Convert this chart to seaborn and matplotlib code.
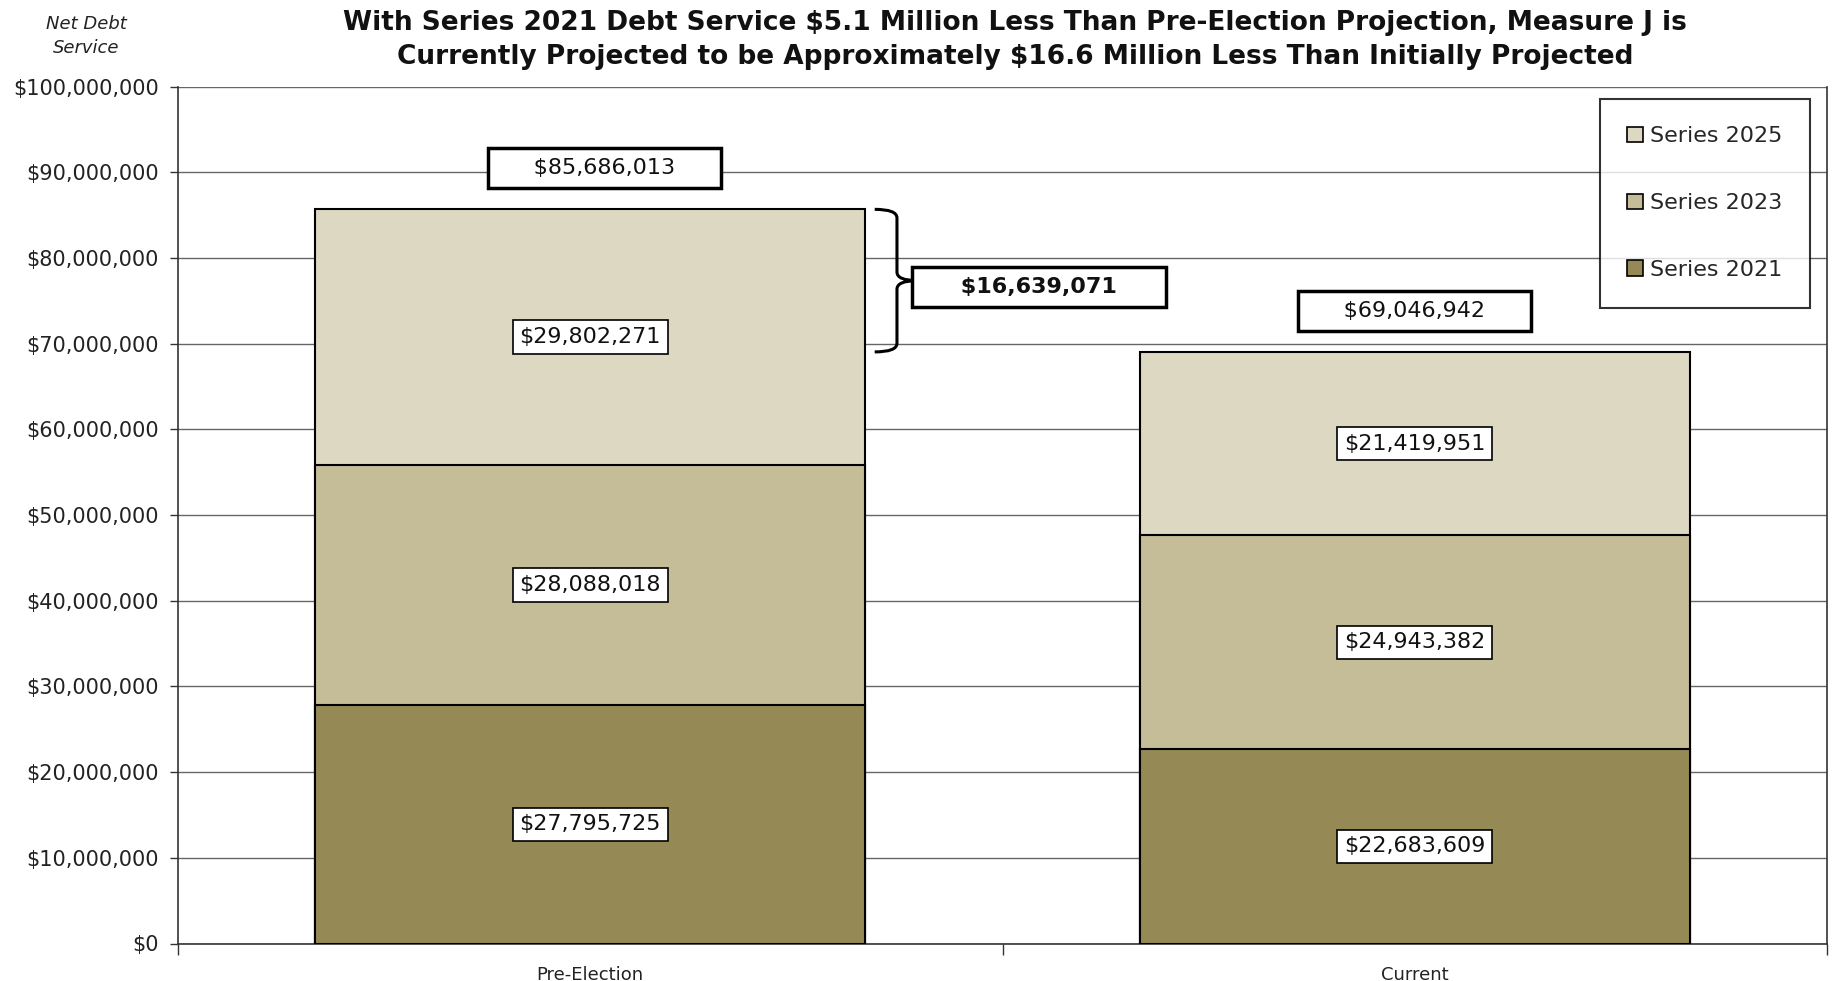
import matplotlib
matplotlib.use("Agg")
import matplotlib.pyplot as plt
from matplotlib.path import Path
from matplotlib.patches import PathPatch, Patch
import seaborn as sns
import pandas as pd
import numpy as np

# Net debt service by bond series
categories = ["Pre-Election", "Current"]
series_names = ["Series 2021", "Series 2023", "Series 2025"]
series_2021 = [27795725, 22683609]
series_2023 = [28088018, 24943382]
series_2025 = [29802271, 21419951]
totals = [85686013, 69046942]
difference = 16639071
colors = {"Series 2021": "#958A55", "Series 2023": "#C5BD98", "Series 2025": "#DDD8C2"}
yticks = list(range(0, 100_000_001, 10_000_000))

sns.set_theme(style="white")
plt.rcParams["font.family"] = ["DejaVu Sans"]

fig = plt.figure(figsize=(18.33, 9.81), dpi=100)
ax = fig.add_axes([178 / 1833, 1 - 943.5 / 981, (1827 - 178) / 1833, (943.5 - 86.7) / 981])

df = pd.DataFrame({
    "category": categories * 3,
    "series": sum([[s] * 2 for s in series_names], []),
    "value": series_2021 + series_2023 + series_2025,
})

# stacked bars: each series drawn at its cumulative height, lower series on top
bottoms = np.zeros(len(categories))
n = len(categories)
for i, s in enumerate(series_names):
    sub = df[df.series == s]
    vals = sub["value"].to_numpy()
    sns.barplot(x=sub["category"], y=sub["value"].to_numpy() + bottoms, ax=ax,
                color=colors[s], edgecolor="black", linewidth=1.5,
                width=0.667, saturation=1)
    for p in ax.patches[i * n:(i + 1) * n]:
        p.set_zorder(5 - i)
    bottoms += vals

ax.set_xlim(-0.5, 1.5)
ax.set_ylim(0, 100_000_000)
ax.set_yticks(yticks)
ax.set_yticklabels([f"${v:,.0f}" for v in yticks], fontsize=15, color="#222222")
ax.set_xticks([0, 1])
ax.set_xticklabels(categories, fontsize=13, color="#222222")
ax.set_xlabel("")
ax.set_ylabel("")
ax.yaxis.grid(True, color="#666666", linewidth=1.0, zorder=0)
ax.set_axisbelow(True)
for side in ["left", "bottom", "right", "top"]:
    ax.spines[side].set_color("#333333")
    ax.spines[side].set_linewidth(1.2)
ax.spines["top"].set_visible(False)
ax.tick_params(axis="y", which="both", left=True, length=6, width=1, color="#333333", pad=8)
ax.tick_params(axis="x", which="major", bottom=False, pad=10)
# category boundary ticks
ax.set_xticks([-0.5, 0.5, 1.5], minor=True)
ax.tick_params(axis="x", which="minor", bottom=True, length=8, width=1, color="#333333")

# segment value labels
box_thin = dict(boxstyle="square,pad=0.3", facecolor="white", edgecolor="black", linewidth=1.2)
for xi in range(n):
    base = 0
    for s, vals in zip(series_names, [series_2021, series_2023, series_2025]):
        v = vals[xi]
        ax.text(xi, base + v / 2, f"${v:,.0f}", ha="center", va="center",
                fontsize=16, color="#111111", bbox=box_thin, zorder=10)
        base += v

# total labels in wider, heavier boxes
box_thick = dict(boxstyle="square,pad=0.45", facecolor="white", edgecolor="black", linewidth=2.5)
pad = " " * 5
for xi, t in enumerate(totals):
    ax.text(xi + (0.017 if xi == 0 else 0), t + 4_800_000, f"{pad}${t:,.0f}{pad}",
            ha="center", va="center", fontsize=16, color="#111111", zorder=10,
            bbox=box_thick)

# curly bracket spanning the difference between the two totals
top, bot = totals[0], totals[1]
mid = (top + bot) / 2
x0, xv, xt = 0.345, 0.372, 0.397
r = 1_000_000
verts = [
    (x0, top), (xv, top), (xv, top - r),
    (xv, mid + r), (xv, mid), (xt, mid),
    (xv, mid), (xv, mid - r),
    (xv, bot + r), (xv, bot), (x0, bot),
]
codes = [Path.MOVETO, Path.CURVE3, Path.CURVE3,
         Path.LINETO, Path.CURVE3, Path.CURVE3,
         Path.CURVE3, Path.CURVE3,
         Path.LINETO, Path.CURVE3, Path.CURVE3]
ax.add_patch(PathPatch(Path(verts, codes), facecolor="none", edgecolor="black",
                       linewidth=2.2, zorder=9, clip_on=False))
ax.text(0.544, mid - 700_000, f"{pad}${difference:,.0f}{pad}", ha="center", va="center",
        fontsize=16, fontweight="bold", color="#111111", zorder=10, bbox=box_thick)

# legend, newest series on top
handles = [Patch(facecolor=colors[s], edgecolor="black", linewidth=1.2, label=s)
           for s in reversed(series_names)]
leg = ax.legend(handles=handles, loc="upper right", bbox_to_anchor=(0.9895, 0.986),
                fontsize=16, frameon=True, fancybox=False, edgecolor="black",
                handlelength=0.7, handleheight=0.7, handletextpad=0.3,
                labelspacing=2.1, borderpad=1.25, borderaxespad=0)
leg.get_frame().set_linewidth(1.5)
leg.set_zorder(12)

fig.text(1015 / 1833, 1 - 40 / 981,
         "With Series 2021 Debt Service $5.1 Million Less Than Pre-Election Projection, Measure J is\n"
         "Currently Projected to be Approximately $16.6 Million Less Than Initially Projected",
         ha="center", va="center", fontsize=19, fontweight="bold", color="#111111",
         linespacing=1.4)
fig.text(86 / 1833, 1 - 36 / 981, "Net Debt\nService", ha="center", va="center",
         fontsize=13, style="italic", color="#222222", linespacing=1.45)

fig.savefig("out.png", dpi=100, facecolor="white")
